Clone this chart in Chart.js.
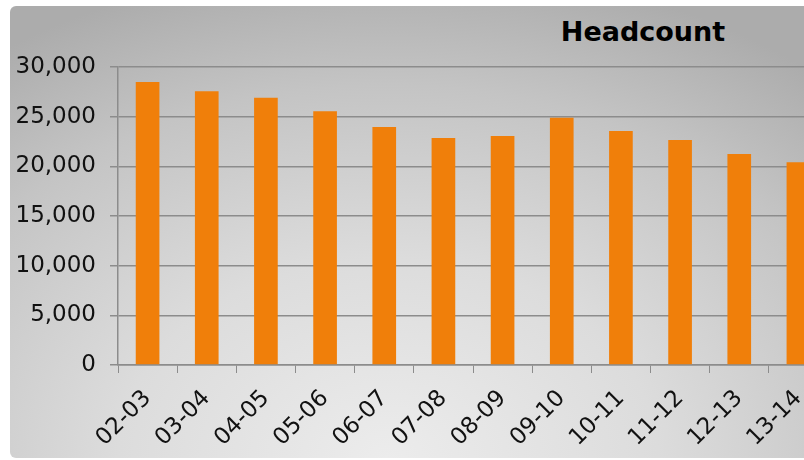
<!DOCTYPE html>
<html>
<head>
<meta charset="utf-8">
<script src="https://cdn.jsdelivr.net/npm/chart.js@4/dist/chart.umd.min.js"></script>
<style>
html,body{margin:0;padding:0;background:#fff;overflow:hidden;width:804px;height:460px;}
#panel{position:absolute;left:10px;top:6px;width:900px;height:452px;border-radius:6px;
background:radial-gradient(ellipse 75% 110% at 42% 100%, #ececec 0%, #dcdcdc 40%, #c4c4c4 75%, #acacac 100%);}
#title{position:absolute;left:0;top:16px;width:1286px;text-align:center;font:bold 27px "DejaVu Sans",Verdana,sans-serif;color:#000;}
#wrap{position:absolute;left:0;top:0;}
</style>
</head>
<body>
<div id="panel"></div>
<div id="title">Headcount</div>
<div id="wrap"><canvas id="c" width="840" height="460"></canvas></div>
<script>
const categories = ["02-03","03-04","04-05","05-06","06-07","07-08","08-09","09-10","10-11","11-12","12-13","13-14"];
const headcount = [28500, 27550, 26900, 25550, 23950, 22850, 23050, 24900, 23550, 22650, 21250, 20400];
const yTicks = [0, 5000, 10000, 15000, 20000, 25000, 30000];

const yFont = {family: '"DejaVu Sans", Verdana, sans-serif', size: 23};
const xFont = {family: '"DejaVu Sans", Verdana, sans-serif', size: 23};
new Chart(document.getElementById('c'), {
  type: 'bar',
  data: {
    labels: categories,
    datasets: [{
      label: 'Headcount',
      data: headcount,
      backgroundColor: '#f07f0a',
      borderWidth: 0,
      barPercentage: 0.4,
      categoryPercentage: 1.0
    }]
  },
  options: {
    responsive: false,
    animation: false,
    layout: {padding: {left: 0, right: 12, top: 67, bottom: 0}},
    plugins: {legend: {display: false}, tooltip: {enabled: false}, title: {display: false}},
    scales: {
      x: {
        offset: true,
        grid: {display: true, drawOnChartArea: false, drawTicks: true, tickLength: 8, color: '#8c8c8c', offset: true},
        border: {display: true, color: '#8c8c8c', width: 1.5},
        ticks: {font: xFont, color: '#111', minRotation: 45, maxRotation: 45, padding: 12, autoSkip: false},
        afterFit: s => { s.height = 95; }
      },
      y: {
        min: 0, max: 30000,
        afterBuildTicks: s => { s.ticks = yTicks.map(v => ({value: v})); },
        grid: {color: '#8c8c8c', lineWidth: 1.5, tickLength: 8},
        border: {display: true, color: '#8c8c8c', width: 1.5},
        ticks: {font: yFont, color: '#111', padding: 14,
          callback: v => v.toLocaleString('en-US')},
        afterFit: s => { s.width = 118; }
      }
    }
  }
});
</script>
</body>
</html>
